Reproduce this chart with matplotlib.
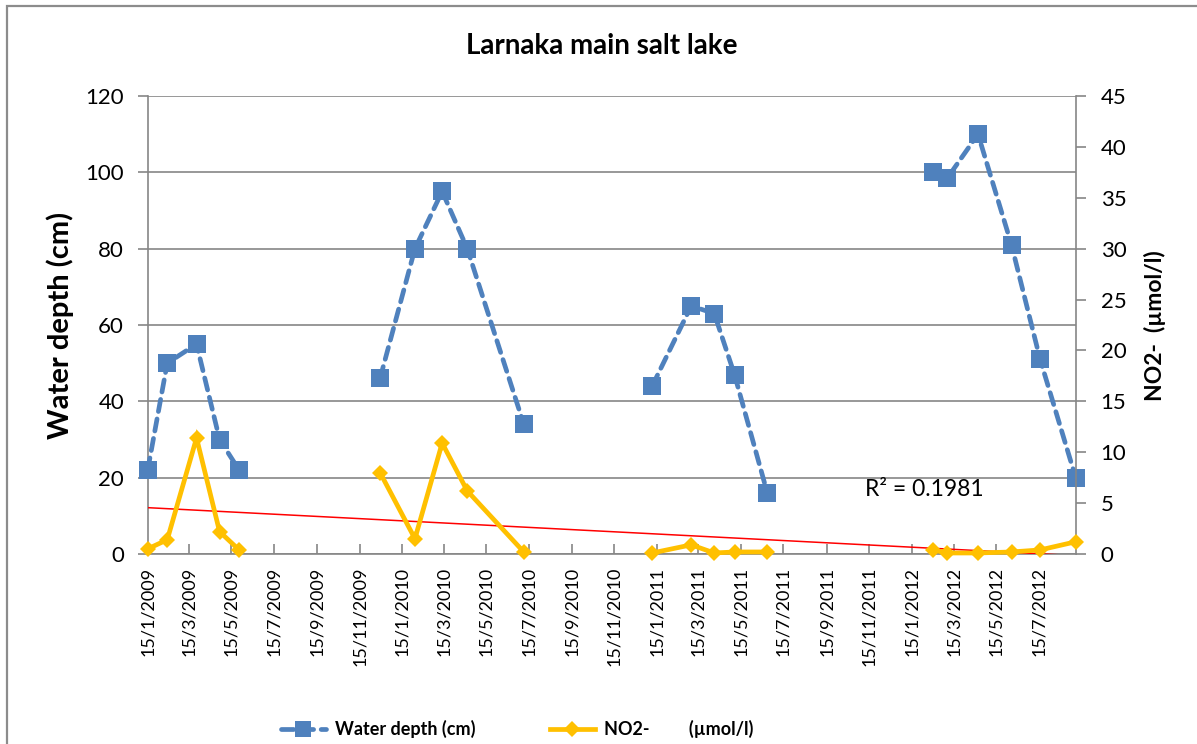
import matplotlib
matplotlib.use("Agg")
import matplotlib.pyplot as plt
import matplotlib.dates as mdates
import numpy as np
from datetime import datetime
from matplotlib.lines import Line2D
from matplotlib.patches import Rectangle

plt.rcParams['font.family'] = ['Lato', 'DejaVu Sans']

# ---------------- data ----------------
sample_dates = ["2009-01-15", "2009-02-12", "2009-03-26", "2009-04-28", "2009-05-26",
                "2009-12-14", "2010-02-02", "2010-03-13", "2010-04-18", "2010-07-08",
                "2011-01-08", "2011-03-05", "2011-04-07", "2011-05-06", "2011-06-22",
                "2012-02-15", "2012-03-06", "2012-04-19", "2012-06-06", "2012-07-17",
                "2012-09-06"]
campaign = [0, 0, 0, 0, 0,
            1, 1, 1, 1, 1,
            2, 2, 2, 2, 2,
            3, 3, 3, 3, 3, 3]
water_depth_cm = [22, 50, 55, 30, 22,
                  46, 80, 95, 80, 34,
                  44, 65, 63, 47, 16,
                  100, 98.5, 110, 81, 51, 20]
no2_umol_l = [0.5, 1.4, 11.4, 2.2, 0.4,
              8.0, 1.5, 10.9, 6.2, 0.2,
              0.1, 0.9, 0.1, 0.2, 0.2,
              0.4, 0.1, 0.1, 0.2, 0.4, 1.2]
x_tick_labels = ["15/1/2009", "15/3/2009", "15/5/2009", "15/7/2009", "15/9/2009", "15/11/2009",
                 "15/1/2010", "15/3/2010", "15/5/2010", "15/7/2010", "15/9/2010", "15/11/2010",
                 "15/1/2011", "15/3/2011", "15/5/2011", "15/7/2011", "15/9/2011", "15/11/2011",
                 "15/1/2012", "15/3/2012", "15/5/2012", "15/7/2012"]
left_ticks = [0, 20, 40, 60, 80, 100, 120]
right_ticks = [0, 5, 10, 15, 20, 25, 30, 35, 40, 45]
title_text = "Larnaka main salt lake"
left_label = "Water depth (cm)"
right_label = "NO2-  (µmol/l)"
legend_labels = ["Water depth (cm)", "NO2-         (µmol/l)"]
r2_label = "R² = 0.1981"

# ---------------- prep ----------------
W, H = 1197, 744
dates = [datetime.strptime(d, "%Y-%m-%d") for d in sample_dates]
xnum = np.array(mdates.date2num(dates))
tick_pos = mdates.date2num([datetime.strptime(t, "%d/%m/%Y") for t in x_tick_labels])
wd = np.array(water_depth_cm, dtype=float)
no2 = np.array(no2_umol_l, dtype=float)
camp = np.array(campaign)

BLUE = "#4F81BD"
GOLD = "#FFC000"
GRID = "#868686"

fig = plt.figure(figsize=(W / 100, H / 100), dpi=100)
fig.patch.set_facecolor("white")

# chart border
fig.patches.append(Rectangle((7 / W, -0.2), 1.5, 1 - 6 / H + 0.2, transform=fig.transFigure,
                             fill=False, edgecolor="#8c8c8c", lw=1.6, clip_on=False))

left, right, top, bottom = 147.7, 1075.7, 96.0, 554.0
ax1 = fig.add_axes([left / W, 1 - bottom / H, (right - left) / W, (bottom - top) / H])
ax2 = ax1.twinx()

xmin, xmax = xnum.min(), xnum.max()
ax1.set_xlim(xmin, xmax)
ax1.set_ylim(0, 120)
ax2.set_ylim(0, 45)

# water depth (dashed blue with squares), one segment per campaign
for c in np.unique(camp):
    m = camp == c
    ax1.plot(xnum[m], wd[m], color=BLUE, lw=3.4, linestyle=(0, (2.6, 1.6)),
             dash_capstyle="round", marker="s", markersize=12.5, markeredgewidth=0,
             zorder=3, clip_on=False)

# trend line of NO2 (linear)
coef = np.polyfit(xnum, no2, 1)
tx = np.array([xmin, xmax])
ax2.plot(tx, np.polyval(coef, tx), color="#FF0000", lw=1.1, zorder=2)

# NO2 (solid gold with diamonds)
for c in np.unique(camp):
    m = camp == c
    ax2.plot(xnum[m], no2[m], color=GOLD, lw=3.4, marker="D", markersize=8.5,
             markeredgewidth=0, zorder=3, clip_on=False, solid_joinstyle="miter")

# axes styling
ax1.set_yticks(left_ticks)
ax2.set_yticks(right_ticks)
ax1.set_xticks(tick_pos)
ax1.set_xticklabels(x_tick_labels, rotation=90, fontsize=13)
ax1.yaxis.grid(True, color=GRID, lw=1.2)
ax1.set_axisbelow(True)
for a in (ax1, ax2):
    for s in a.spines.values():
        s.set_visible(False)
ax1.spines["left"].set_visible(True)
ax1.spines["bottom"].set_visible(True)
ax2.spines["right"].set_visible(True)
for s in (ax1.spines["left"], ax1.spines["bottom"], ax2.spines["right"]):
    s.set_color(GRID)
    s.set_linewidth(1.2)
ax1.tick_params(axis="x", direction="in", length=7, width=1.2, color=GRID, pad=9)
ax1.tick_params(axis="y", direction="out", length=7, width=1.2, color=GRID,
                labelsize=16, pad=10)
ax2.tick_params(axis="y", direction="out", length=7, width=1.2, color=GRID,
                labelsize=16, pad=11)
ax2.patch.set_visible(False)

# texts
fig.text(602 / W, 1 - 46 / H, title_text, ha="center", va="center",
         fontsize=20, fontweight="bold")
fig.text(60 / W, 1 - 325 / H, left_label, ha="center", va="center", rotation=90,
         fontsize=21, fontweight="bold")
fig.text(1155 / W, 1 - 326 / H, right_label, ha="center", va="center", rotation=90,
         fontsize=16.5, fontweight="bold")
fig.text(924 / W, 1 - 490 / H, r2_label, ha="center", va="center", fontsize=16.5)

# legend
handles = [Line2D([], [], color=BLUE, lw=3.4, linestyle=(0, (2.6, 1.6)), marker="s",
                  markersize=12, markeredgewidth=0, dash_capstyle="round"),
           Line2D([], [], color=GOLD, lw=3.4, marker="D", markersize=8, markeredgewidth=0)]
fig.legend(handles, legend_labels, loc="center", bbox_to_anchor=(517 / W, 1 - 729 / H),
           ncol=2, frameon=False, prop={"weight": "bold", "size": 13},
           handlelength=2.5, columnspacing=4.1, handletextpad=0.5)

fig.savefig("out.png", dpi=100)
